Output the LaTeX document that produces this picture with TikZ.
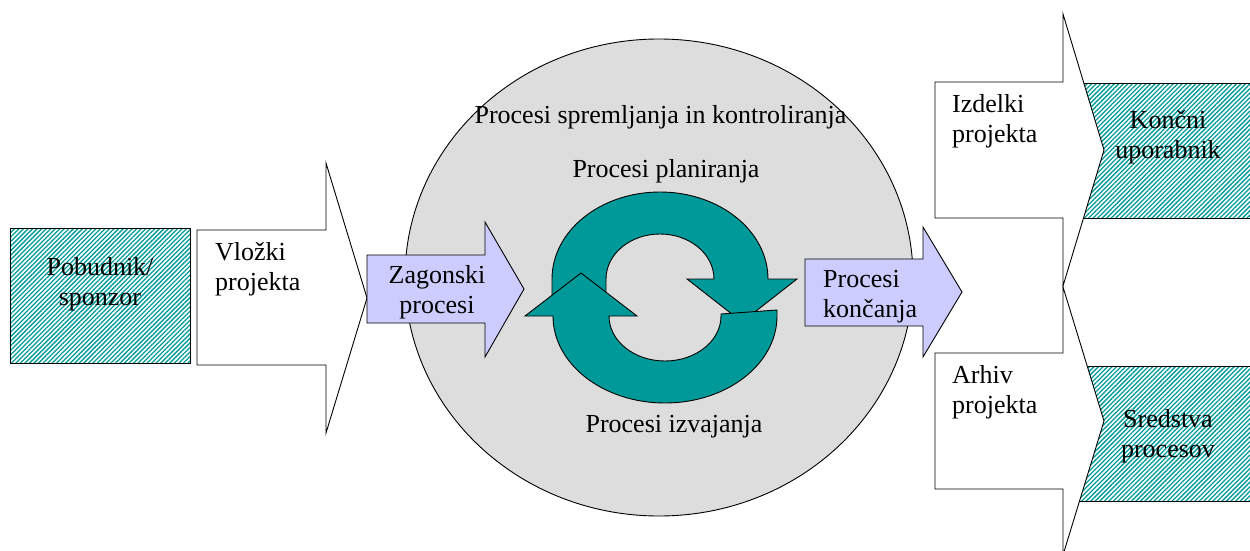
\documentclass[tikz,border=0pt]{standalone}
\usepackage{fontspec}
\setmainfont{Liberation Serif}
\newfontfamily\diagfont{Liberation Serif}
\usetikzlibrary{patterns.meta}
\definecolor{ringgray}{HTML}{DDDDDD}
\definecolor{cycleteal}{HTML}{009999}
\definecolor{phaselilac}{HTML}{CCCCFF}
\tikzset{
  outline/.style={draw=black,line width=0.9pt,line join=miter},
  whitearrow/.style={outline,fill=white},
  phasearrow/.style={outline,fill=phaselilac},
  cyclearrow/.style={outline,fill=cycleteal},
  hatchbox/.style={outline,pattern={Lines[angle=45,distance=3.2pt,line width=1.3pt]},pattern color=cycleteal},
  label/.style={font=\diagfont\fontsize{26}{30}\selectfont,inner sep=0pt},
}
\begin{document}
\begin{tikzpicture}[x=1pt,y=-1pt]
\useasboundingbox (0,0) rectangle (1250,551);
\fill[white] (0,0) rectangle (1250,551);

% sponsor box and project inputs
\draw[hatchbox] (10,228) rectangle (190,363);
\node[label,align=center] (sponsor) at (100,284) {Pobudnik/\\sponzor};
\draw[whitearrow] (197,230) -- (326,230) -- (326,163) -- (367,298) -- (326,433) -- (326,365) -- (197,365) -- cycle;
\node[label,align=left,anchor=west] (inputs) at (215,269) {Vložki\\projekta};

% monitoring and controlling
\draw[outline,fill=ringgray] (659,277.5) ellipse [x radius=254,y radius=238.5];
\node[label,anchor=base] (monitor) at (660.5,123) {Procesi spremljanja in kontroliranja};
\node[label,anchor=base] (planning) at (666,177) {Procesi planiranja};
\node[label,anchor=base] (executing) at (674,432) {Procesi izvajanja};

% initiating and closing
\draw[phasearrow] (367,255) -- (485,255) -- (485,222) -- (524,289) -- (485,357) -- (485,323) -- (367,323) -- cycle;
\node[label,align=center] (initiating) at (437,292) {Zagonski\\procesi};
\draw[phasearrow] (805,259) -- (923,259) -- (923,227) -- (962,292) -- (923,357) -- (923,326) -- (805,326) -- cycle;
\node[label,align=left,anchor=west] (closing) at (823,297) {Procesi\\končanja};

% planning / executing cycle
\draw[cyclearrow] (552,300) -- (552,279)
  arc[start angle=180,end angle=360,x radius=108,y radius=87]
  -- (797,279) -- (742,322) -- (687,279) -- (714,279)
  arc[start angle=360,end angle=180,x radius=54,y radius=45]
  -- (606,300) -- cycle;
\draw[cyclearrow] (721,314) -- (777,310) -- (777,316)
  arc[start angle=0,end angle=180,x radius=112,y radius=87]
  -- (525,316) -- (581,273) -- (637,316) -- (609,316)
  arc[start angle=180,end angle=0,x radius=56,y radius=45]
  -- cycle;

% outputs
\draw[hatchbox] (1070,83) rectangle (1256,218);
\draw[hatchbox] (1070,366) rectangle (1256,501);
\draw[whitearrow] (935,82) -- (1063,82) -- (1063,14) -- (1104,150) -- (1063,286) -- (1063,218) -- (935,218) -- cycle;
\draw[whitearrow] (935,353) -- (1063,353) -- (1063,287) -- (1104,421) -- (1063,555) -- (1063,489) -- (935,489) -- cycle;
\node[label,align=left,anchor=west] (deliverables) at (952,121) {Izdelki\\projekta};
\node[label,align=center] (enduser) at (1168,137) {Končni\\uporabnik};
\node[label,align=left,anchor=west] (archive) at (952,392) {Arhiv\\projekta};
\node[label,align=center] (assets) at (1168,436) {Sredstva\\procesov};
\end{tikzpicture}
\end{document}
